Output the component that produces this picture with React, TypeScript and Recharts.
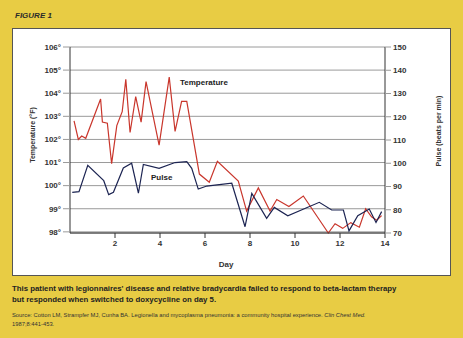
import { LineChart, Line, XAxis, YAxis, CartesianGrid } from 'recharts'

// Temperature (°F) by day
const tempDays = [
  0.18, 0.37, 0.52, 0.7, 1.36, 1.44, 1.66, 1.85, 2.08, 2.32, 2.48, 2.67, 2.92, 3.16, 3.38, 3.96, 4.41,
  4.67, 4.96, 5.19, 5.75, 6.19, 6.55, 7.48, 7.85, 8.37, 8.89, 9.19, 9.73, 10.37, 11.48, 11.78, 12.12,
  12.48, 12.86, 13.14, 13.4, 13.63, 13.85,
]
const tempValues = [
  102.8, 102.0, 102.15, 102.05, 103.75, 102.75, 102.7, 100.95, 102.6, 103.2, 104.6, 102.3, 103.85,
  102.75, 104.5, 101.75, 104.7, 102.35, 103.65, 103.65, 100.5, 100.15, 101.05, 100.2, 98.9, 99.9, 98.9,
  99.4, 99.1, 99.55, 97.95, 98.35, 98.15, 98.4, 98.2, 99.0, 98.65, 98.5, 98.7,
]

// Pulse (beats per min) by day
const pulseDays = [
  0.1, 0.4, 0.79, 1.5, 1.72, 1.93, 2.37, 2.74, 3.04, 3.26, 3.96, 4.67, 5.19, 5.41, 5.7, 6.08, 6.44,
  7.19, 7.78, 8.08, 8.74, 9.08, 9.68, 11.08, 11.63, 12.15, 12.4, 12.79, 13.3, 13.6, 13.85,
]
const pulseValues = [
  87.5, 87.8, 99.1, 92.5, 86.5, 87.5, 98.0, 100, 87.1, 99.5, 97.8, 100.3, 100.7, 97.8, 88.9, 90.2, 90.6,
  91.4, 72.7, 87.0, 76.3, 81.0, 77.4, 83.2, 79.9, 79.9, 70.9, 77.4, 80.3, 74.5, 79.2,
]

const dayTicks = [2, 4, 6, 8, 10, 12, 14]
const tempTicks = [98, 99, 100, 101, 102, 103, 104, 105, 106]
const pulseTicks = [70, 80, 90, 100, 110, 120, 130, 140, 150]

const tempData = tempDays.map((day, i) => ({ day, temp: tempValues[i] }))
const pulseData = pulseDays.map((day, i) => ({ day, pulse: pulseValues[i] }))

const FONT = '"Liberation Sans", Arial, sans-serif'
const tickStyle = { fontSize: 8, fontWeight: 700, fill: '#333', fontFamily: FONT }

export default function App() {
  return (
    <div
      style={{
        position: 'absolute',
        left: 0,
        top: 0,
        width: 463,
        height: 338,
        background: '#e8cc44',
        fontFamily: FONT,
        overflow: 'hidden',
      }}
    >
      <div
        style={{
          position: 'absolute',
          left: 15,
          top: 11,
          fontSize: 8,
          fontWeight: 700,
          fontStyle: 'italic',
          color: '#2a2a2a',
        }}
      >
        FIGURE 1
      </div>
      <div
        style={{
          position: 'absolute',
          left: 12,
          top: 28,
          width: 439,
          height: 248,
          background: '#fff',
          border: '1px solid #555',
          boxSizing: 'border-box',
        }}
      />
      <div style={{ position: 'absolute', left: 0, top: 0 }}>
        <LineChart width={463} height={280} margin={{ top: 47, right: 30, bottom: 17, left: 20 }}>
          <CartesianGrid yAxisId="left" vertical={false} stroke="#9a9a9a" strokeWidth={1} />
          <XAxis
            type="number"
            dataKey="day"
            domain={[0, 14]}
            ticks={dayTicks}
            allowDuplicatedCategory={false}
            tick={tickStyle}
            tickSize={5}
            height={30}
            axisLine={{ stroke: '#333' }}
            tickLine={{ stroke: '#333' }}
          />
          <YAxis
            yAxisId="left"
            domain={[98, 106]}
            ticks={tempTicks}
            tickFormatter={(v) => `${v}°`}
            tick={tickStyle}
            tickSize={7}
            width={50}
            axisLine={{ stroke: '#333' }}
            tickLine={{ stroke: '#9a9a9a' }}
          />
          <YAxis
            yAxisId="right"
            orientation="right"
            domain={[70, 150]}
            ticks={pulseTicks}
            tick={{ ...tickStyle, textAnchor: 'start' }}
            tickSize={6}
            width={48}
            axisLine={{ stroke: '#333' }}
            tickLine={{ stroke: '#9a9a9a' }}
          />
          <Line
            yAxisId="left"
            data={tempData}
            dataKey="temp"
            type="linear"
            stroke="#c9362c"
            strokeWidth={1.2}
            dot={false}
            isAnimationActive={false}
          />
          <Line
            yAxisId="right"
            data={pulseData}
            dataKey="pulse"
            type="linear"
            stroke="#1c2452"
            strokeWidth={1.2}
            dot={false}
            isAnimationActive={false}
          />
        </LineChart>
      </div>
      <div
        style={{
          position: 'absolute',
          left: 180,
          top: 78,
          fontSize: 8,
          fontWeight: 700,
          color: '#222',
        }}
      >
        Temperature
      </div>
      <div
        style={{
          position: 'absolute',
          left: 151,
          top: 173,
          fontSize: 8,
          fontWeight: 700,
          color: '#222',
        }}
      >
        Pulse
      </div>
      <div
        style={{
          position: 'absolute',
          left: 32,
          top: 135,
          transform: 'translate(-50%, -50%) rotate(-90deg)',
          whiteSpace: 'nowrap',
          fontSize: 7,
          fontWeight: 700,
          color: '#333',
        }}
      >
        Temperature (°F)
      </div>
      <div
        style={{
          position: 'absolute',
          left: 438,
          top: 131,
          transform: 'translate(-50%, -50%) rotate(-90deg)',
          whiteSpace: 'nowrap',
          fontSize: 7,
          fontWeight: 700,
          color: '#333',
        }}
      >
        Pulse (beats per min)
      </div>
      <div
        style={{
          position: 'absolute',
          left: 0,
          width: 452,
          top: 260,
          textAlign: 'center',
          fontSize: 8,
          fontWeight: 700,
          color: '#333',
        }}
      >
        Day
      </div>
      <div
        style={{
          position: 'absolute',
          left: 12,
          top: 283,
          width: 445,
          fontSize: 7.8,
          lineHeight: '11px',
          fontWeight: 700,
          color: '#222',
        }}
      >
        This patient with legionnaires' disease and relative bradycardia failed to respond to beta-lactam therapy
        <br />
        but responded when switched to doxycycline on day 5.
      </div>
      <div
        style={{
          position: 'absolute',
          left: 12,
          top: 311,
          width: 445,
          fontSize: 5.8,
          lineHeight: '9px',
          color: '#333',
        }}
      >
        Source: Cotton LM, Strampfer MJ, Cunha BA. Legionella and mycoplasma pneumonia: a community hospital
        experience. <i>Clin Chest Med.</i>
        <br />
        1987;8:441-453.
      </div>
    </div>
  )
}
